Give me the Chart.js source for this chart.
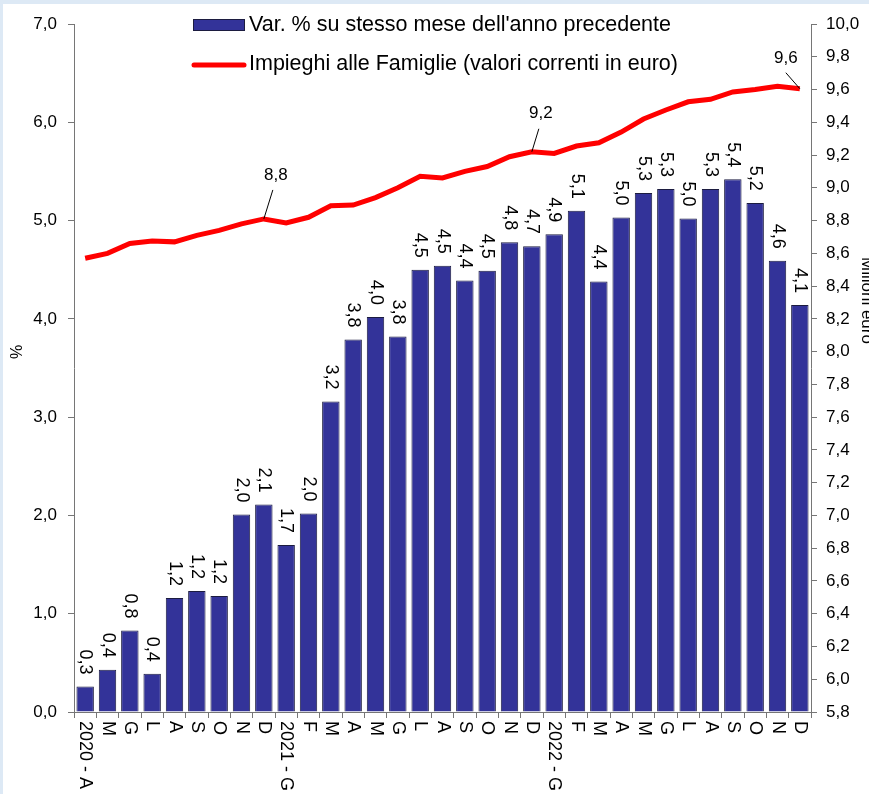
<!DOCTYPE html>
<html>
<head>
<meta charset="utf-8">
<script src="https://cdn.jsdelivr.net/npm/chart.js@4"></script>
<style>
html, body { margin: 0; padding: 0; background: #fff; }
canvas { display: block; }
</style>
</head>
<body>
<canvas id="myChart" width="869" height="794"></canvas>
<script>
const labels = [
    '2020 - A', 'M', 'G', 'L', 'A', 'S', 'O', 'N', 'D',
    '2021 - G', 'F', 'M', 'A', 'M', 'G', 'L', 'A', 'S', 'O', 'N', 'D',
    '2022 - G', 'F', 'M', 'A', 'M', 'G', 'L', 'A', 'S', 'O', 'N', 'D'
];

// Var. % su stesso mese dell'anno precedente
const varPct = [
    0.26, 0.43, 0.83, 0.39, 1.16, 1.23, 1.18, 2.01, 2.11,
    1.70, 2.02, 3.16, 3.79, 4.02, 3.82, 4.50, 4.54, 4.39, 4.49, 4.78, 4.74,
    4.86, 5.10, 4.38, 5.03, 5.28, 5.32, 5.02, 5.32, 5.42, 5.18, 4.59, 4.14
];

// Impieghi alle Famiglie (milioni euro)
const impieghi = [
    8.57, 8.60, 8.66, 8.675, 8.67, 8.71, 8.74, 8.78, 8.81,
    8.785, 8.82, 8.89, 8.895, 8.94, 9.00, 9.07, 9.06, 9.10, 9.13, 9.19, 9.22,
    9.21, 9.255, 9.275, 9.34, 9.42, 9.475, 9.525, 9.54, 9.585, 9.60, 9.62, 9.605
];

const pctAxis = [0, 7, 1];        // min, max, step
const euroAxis = [5.8, 10.0, 0.2]; // min, max, step
const lineLabelIdx = [8, 20, 32];

const legendText = [
    "Var. % su stesso mese dell'anno precedente",
    'Impieghi alle Famiglie (valori correnti in euro)'
];

const FONT = '"Liberation Sans", Arial, sans-serif';
const fmt = v => v.toFixed(1).replace('.', ',');
const BLUE = '#333399';
const RED = '#ff0000';
const AXIS = '#767676';

// offsets of the callout labels on the line: [labelDx, labelDy, leaderDx, leaderDy]
const callouts = [[12, -44, 9, -29], [9, -38, 7, -23], [-14, -30, -14, -16]];

const decor = {
    id: 'decor',
    beforeDraw(chart) {
        const ctx = chart.ctx;
        ctx.save();
        ctx.fillStyle = '#ffffff';
        ctx.fillRect(0, 0, chart.width, chart.height);
        ctx.fillStyle = '#dde9f5';
        ctx.fillRect(0, 0, chart.width, 4);
        ctx.fillRect(0, 0, 3, chart.height);
        ctx.restore();
    },
    afterDraw(chart) {
        const ctx = chart.ctx;
        const xs = chart.scales.x;
        ctx.save();
        ctx.fillStyle = '#000';

        // bar values, rotated
        ctx.font = '18px ' + FONT;
        const bars = chart.getDatasetMeta(0).data;
        bars.forEach((b, i) => {
            ctx.save();
            ctx.translate(b.x, b.y - 12);
            ctx.rotate(Math.PI / 2);
            ctx.textAlign = 'right';
            ctx.textBaseline = 'middle';
            ctx.fillText(fmt(varPct[i]), 0, 0);
            ctx.restore();
        });

        // callouts on the line
        const pts = chart.getDatasetMeta(1).data;
        ctx.font = '17px ' + FONT;
        ctx.strokeStyle = '#000';
        ctx.lineWidth = 1;
        lineLabelIdx.forEach((idx, k) => {
            const p = pts[idx];
            const c = callouts[k];
            ctx.beginPath();
            ctx.moveTo(p.x, p.y);
            ctx.lineTo(p.x + c[2], p.y + c[3]);
            ctx.stroke();
            ctx.textAlign = 'center';
            ctx.textBaseline = 'middle';
            ctx.fillText(fmt(impieghi[idx]), p.x + c[0], p.y + c[1]);
        });

        // category labels, rotated clockwise
        ctx.font = '18px ' + FONT;
        labels.forEach((lab, i) => {
            ctx.save();
            ctx.translate(xs.getPixelForValue(i), 721);
            ctx.rotate(Math.PI / 2);
            ctx.textAlign = 'left';
            ctx.textBaseline = 'middle';
            ctx.fillText(lab, 0, 0);
            ctx.restore();
        });

        // axis titles
        ctx.font = '16px ' + FONT;
        ctx.save();
        ctx.translate(18, 352);
        ctx.rotate(-Math.PI / 2);
        ctx.textAlign = 'center';
        ctx.textBaseline = 'middle';
        ctx.fillText('%', 0, 0);
        ctx.restore();

        ctx.font = '17px ' + FONT;
        ctx.save();
        ctx.translate(862, 257);
        ctx.rotate(Math.PI / 2);
        ctx.textAlign = 'left';
        ctx.textBaseline = 'alphabetic';
        ctx.fillText('Milioni euro', 0, 0);
        ctx.restore();

        // legend
        ctx.fillStyle = BLUE;
        ctx.fillRect(193, 19, 52, 12);
        ctx.strokeStyle = '#1c1c40';
        ctx.strokeRect(193.5, 19.5, 51, 11);
        ctx.strokeStyle = RED;
        ctx.lineWidth = 5;
        ctx.lineCap = 'round';
        ctx.beginPath();
        ctx.moveTo(194, 65);
        ctx.lineTo(244, 65);
        ctx.stroke();
        ctx.fillStyle = '#000';
        ctx.font = '21.5px ' + FONT;
        ctx.textAlign = 'left';
        ctx.textBaseline = 'middle';
        ctx.fillText(legendText[0], 249, 25);
        ctx.fillText(legendText[1], 249, 64);
        ctx.restore();
    }
};

const ctx = document.getElementById('myChart').getContext('2d');

new Chart(ctx, {
    type: 'bar',
    data: {
        labels: labels,
        datasets: [{
            type: 'bar',
            label: legendText[0],
            data: varPct,
            backgroundColor: BLUE,
            borderColor: '#1c1c40',
            borderWidth: 1,
            barPercentage: 0.78,
            categoryPercentage: 1,
            yAxisID: 'y',
            order: 2
        }, {
            type: 'line',
            label: legendText[1],
            data: impieghi,
            borderColor: RED,
            borderWidth: 5,
            pointRadius: 0,
            tension: 0,
            fill: false,
            yAxisID: 'y1',
            order: 1
        }]
    },
    options: {
        responsive: false,
        animation: false,
        devicePixelRatio: 1,
        layout: { padding: { top: 24, left: 0, right: 0, bottom: 0 } },
        plugins: {
            legend: { display: false },
            tooltip: { enabled: false }
        },
        scales: {
            x: {
                offset: true,
                grid: { offset: true, drawOnChartArea: false, drawTicks: true, tickLength: 6, color: AXIS },
                border: { color: AXIS },
                ticks: { display: false },
                afterFit: s => { s.height = 82; }
            },
            y: {
                position: 'left',
                min: pctAxis[0],
                max: pctAxis[1],
                grid: { drawOnChartArea: false, tickLength: 6, color: AXIS },
                border: { color: AXIS },
                ticks: {
                    stepSize: pctAxis[2],
                    padding: 11,
                    color: '#000',
                    font: { family: FONT, size: 17 },
                    callback: v => fmt(v)
                },
                afterFit: s => { s.width = 74; }
            },
            y1: {
                position: 'right',
                min: euroAxis[0],
                max: euroAxis[1],
                grid: { drawOnChartArea: false, tickLength: 6, color: AXIS },
                border: { color: AXIS },
                ticks: {
                    stepSize: euroAxis[2],
                    padding: 9,
                    color: '#000',
                    font: { family: FONT, size: 17 },
                    callback: v => fmt(v)
                },
                afterFit: s => { s.width = 58; }
            }
        }
    },
    plugins: [decor]
});
</script>
</body>
</html>
